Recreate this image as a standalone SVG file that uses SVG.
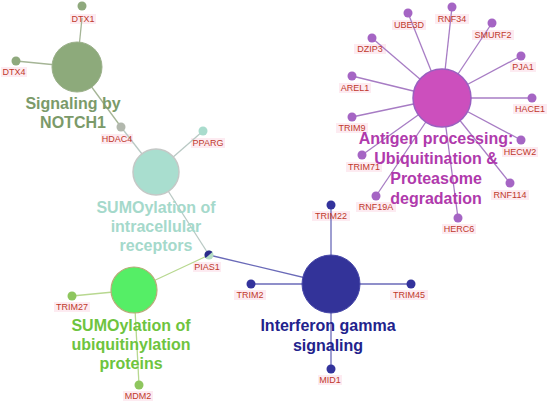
<svg xmlns="http://www.w3.org/2000/svg" width="550" height="402" viewBox="0 0 550 402">
<style>
.lbl{font-family:"Liberation Sans",Arial,sans-serif;font-size:9px;fill:#c0392b;text-anchor:middle}
.big{font-family:"Liberation Sans",Arial,sans-serif;font-size:16px;font-weight:bold;text-anchor:middle}
.lb{fill:#fdebf1}
.e-n{stroke:#a5b596;stroke-width:1.3;fill:none}
.e-a{stroke:#a77cc4;stroke-width:1.3;fill:none}
.e-i{stroke:#6a6ab8;stroke-width:1.3;fill:none}
.e-s{stroke:#b8d890;stroke-width:1.3;fill:none}
.e-r{stroke:#b9c9c4;stroke-width:1.3;fill:none}
.ln{fill:#8fa97d}
.la{fill:#a565c4}
.li{fill:#33339c}
.ls{fill:#8ec65e}
.lr{fill:#a9dccd}
</style>
<rect width="550" height="402" fill="#ffffff"/>
<g id="label-backgrounds">
<rect class="lb" x="70" y="14" width="26" height="10"/>
<rect class="lb" x="1" y="67" width="26" height="10"/>
<rect class="lb" x="101" y="134" width="32" height="10"/>
<rect class="lb" x="191" y="138" width="34" height="10"/>
<rect class="lb" x="193" y="262" width="28" height="10"/>
<rect class="lb" x="54" y="302" width="36" height="10"/>
<rect class="lb" x="123" y="391" width="30" height="10"/>
<rect class="lb" x="312" y="211" width="38" height="10"/>
<rect class="lb" x="234" y="290" width="32" height="10"/>
<rect class="lb" x="390" y="290" width="38" height="10"/>
<rect class="lb" x="318" y="375" width="24" height="10"/>
<rect class="lb" x="392" y="20" width="34" height="10"/>
<rect class="lb" x="435" y="14" width="34" height="10"/>
<rect class="lb" x="472" y="30" width="42" height="10"/>
<rect class="lb" x="510" y="62" width="26" height="10"/>
<rect class="lb" x="513" y="104" width="34" height="10"/>
<rect class="lb" x="502" y="147" width="36" height="10"/>
<rect class="lb" x="491" y="190" width="38" height="10"/>
<rect class="lb" x="442" y="224" width="34" height="10"/>
<rect class="lb" x="356" y="202" width="40" height="10"/>
<rect class="lb" x="346" y="162" width="36" height="10"/>
<rect class="lb" x="336" y="123" width="32" height="10"/>
<rect class="lb" x="339" y="83" width="32" height="10"/>
<rect class="lb" x="354" y="44" width="32" height="10"/>
</g>
<g id="connectors">
<line class="e-n" x1="77" y1="67" x2="82" y2="18"/>
<line class="e-n" x1="77" y1="67" x2="16" y2="61"/>
<line class="e-n" x1="77" y1="67" x2="121" y2="127"/>
<line class="e-r" x1="121" y1="127" x2="156" y2="172"/>
<line class="e-r" x1="156" y1="172" x2="203" y2="131"/>
<line class="e-r" x1="156" y1="172" x2="209" y2="255"/>
<line class="e-s" x1="209" y1="255" x2="134" y2="290"/>
<line class="e-s" x1="134" y1="290" x2="72" y2="296"/>
<line class="e-s" x1="134" y1="290" x2="139" y2="385"/>
<line class="e-i" x1="209" y1="255" x2="331" y2="284"/>
<line class="e-i" x1="331" y1="284" x2="331" y2="205"/>
<line class="e-i" x1="331" y1="284" x2="251" y2="284"/>
<line class="e-i" x1="331" y1="284" x2="411" y2="284"/>
<line class="e-i" x1="331" y1="284" x2="331" y2="369"/>
<g class="e-a">
<line x1="442" y1="98" x2="408" y2="13"/>
<line x1="442" y1="98" x2="452" y2="7"/>
<line x1="442" y1="98" x2="492" y2="23"/>
<line x1="442" y1="98" x2="521" y2="56"/>
<line x1="442" y1="98" x2="532" y2="98"/>
<line x1="442" y1="98" x2="521" y2="140"/>
<line x1="442" y1="98" x2="510" y2="183"/>
<line x1="442" y1="98" x2="458" y2="218"/>
<line x1="442" y1="98" x2="376" y2="196"/>
<line x1="442" y1="98" x2="362" y2="155"/>
<line x1="442" y1="98" x2="352" y2="117"/>
<line x1="442" y1="98" x2="352" y2="76"/>
<line x1="442" y1="98" x2="372" y2="38"/>
</g>
</g>
<g id="hub-notch">
<circle cx="77" cy="67" r="25" fill="#8daa7b" stroke="#9bb08a" stroke-width="1"/>
<text class="big" x="73" y="109" fill="#7b9a69">Signaling by</text>
<text class="big" x="73" y="128" fill="#7b9a69">NOTCH1</text>
</g>
<g id="hub-sumo-intra">
<circle cx="156" cy="172" r="23" fill="#a9decf" stroke="#c4c8c6" stroke-width="1.5"/>
<text class="big" x="156" y="213" fill="#a5d9cb">SUMOylation of</text>
<text class="big" x="156" y="232" fill="#a5d9cb">intracellular</text>
<text class="big" x="156" y="251" fill="#a5d9cb">receptors</text>
</g>
<g id="hub-sumo-ubiq">
<circle cx="134" cy="290" r="23" fill="#55ee66" stroke="#b8ac78" stroke-width="1.2"/>
<text class="big" x="131" y="331" fill="#6ec43e">SUMOylation of</text>
<text class="big" x="131" y="350" fill="#6ec43e">ubiquitinylation</text>
<text class="big" x="131" y="369" fill="#6ec43e">proteins</text>
</g>
<g id="hub-ifn">
<circle cx="331" cy="284" r="29" fill="#333399" stroke="#4646a8" stroke-width="1"/>
<text class="big" x="328" y="331" fill="#22228c">Interferon gamma</text>
<text class="big" x="328" y="351" fill="#22228c">signaling</text>
</g>
<g id="hub-antigen">
<circle cx="442" cy="98" r="29" fill="#cc4fbd" stroke="#9a5fc0" stroke-width="1.5"/>
<text class="big" x="436" y="144" fill="#b03aac" font-size="15.5">Antigen processing:</text>
<text class="big" x="436" y="164" fill="#b03aac" font-size="15.5">Ubiquitination &amp;</text>
<text class="big" x="436" y="184" fill="#b03aac" font-size="15.5">Proteasome</text>
<text class="big" x="436" y="204" fill="#b03aac" font-size="15.5">degradation</text>
</g>
<g id="n-DTX1"><circle class="ln" cx="82" cy="6" r="4.5"/><text class="lbl" x="83" y="22">DTX1</text></g>
<g id="n-DTX4"><circle class="ln" cx="16" cy="61" r="4.5"/><text class="lbl" x="14" y="75">DTX4</text></g>
<g id="n-HDAC4"><circle fill="#b2b8ad" cx="121" cy="127" r="4.5"/><text class="lbl" x="117" y="142">HDAC4</text></g>
<g id="n-PPARG"><circle class="lr" cx="203" cy="131" r="4.5"/><text class="lbl" x="208" y="146">PPARG</text></g>
<g id="n-PIAS1">
<circle cx="209" cy="255" r="4.5" fill="#b5dcc4"/>
<path d="M204.5,255 A4.5,4.5 0 0 1 213.5,255 Z" fill="#2b2b8c" transform="rotate(-40 209 255)"/>
<text class="lbl" x="207" y="270">PIAS1</text></g>
<g id="n-TRIM27"><circle class="ls" cx="72" cy="296" r="4.5"/><text class="lbl" x="72" y="310">TRIM27</text></g>
<g id="n-MDM2"><circle class="ls" cx="139" cy="385" r="4.5"/><text class="lbl" x="138" y="399">MDM2</text></g>
<g id="n-TRIM22"><circle class="li" cx="331" cy="205" r="4.5"/><text class="lbl" x="331" y="219">TRIM22</text></g>
<g id="n-TRIM2"><circle class="li" cx="251" cy="284" r="4.5"/><text class="lbl" x="250" y="298">TRIM2</text></g>
<g id="n-TRIM45"><circle class="li" cx="411" cy="284" r="4.5"/><text class="lbl" x="409" y="298">TRIM45</text></g>
<g id="n-MID1"><circle class="li" cx="331" cy="369" r="4.5"/><text class="lbl" x="330" y="383">MID1</text></g>
<g id="n-UBE3D"><circle class="la" cx="408" cy="13" r="4.5"/><text class="lbl" x="409" y="28">UBE3D</text></g>
<g id="n-RNF34"><circle class="la" cx="452" cy="7" r="4.5"/><text class="lbl" x="452" y="22">RNF34</text></g>
<g id="n-SMURF2"><circle class="la" cx="492" cy="23" r="4.5"/><text class="lbl" x="493" y="38">SMURF2</text></g>
<g id="n-PJA1"><circle class="la" cx="521" cy="56" r="4.5"/><text class="lbl" x="523" y="70">PJA1</text></g>
<g id="n-HACE1"><circle class="la" cx="532" cy="98" r="4.5"/><text class="lbl" x="530" y="112">HACE1</text></g>
<g id="n-HECW2"><circle class="la" cx="521" cy="140" r="4.5"/><text class="lbl" x="520" y="155">HECW2</text></g>
<g id="n-RNF114"><circle class="la" cx="510" cy="183" r="4.5"/><text class="lbl" x="510" y="198">RNF114</text></g>
<g id="n-HERC6"><circle class="la" cx="458" cy="218" r="4.5"/><text class="lbl" x="459" y="232">HERC6</text></g>
<g id="n-RNF19A"><circle class="la" cx="376" cy="196" r="4.5"/><text class="lbl" x="376" y="210">RNF19A</text></g>
<g id="n-TRIM71"><circle class="la" cx="362" cy="155" r="4.5"/><text class="lbl" x="364" y="170">TRIM71</text></g>
<g id="n-TRIM9"><circle class="la" cx="352" cy="117" r="4.5"/><text class="lbl" x="352" y="131">TRIM9</text></g>
<g id="n-AREL1"><circle class="la" cx="352" cy="76" r="4.5"/><text class="lbl" x="355" y="91">AREL1</text></g>
<g id="n-DZIP3"><circle class="la" cx="372" cy="38" r="4.5"/><text class="lbl" x="370" y="52">DZIP3</text></g>
</svg>
